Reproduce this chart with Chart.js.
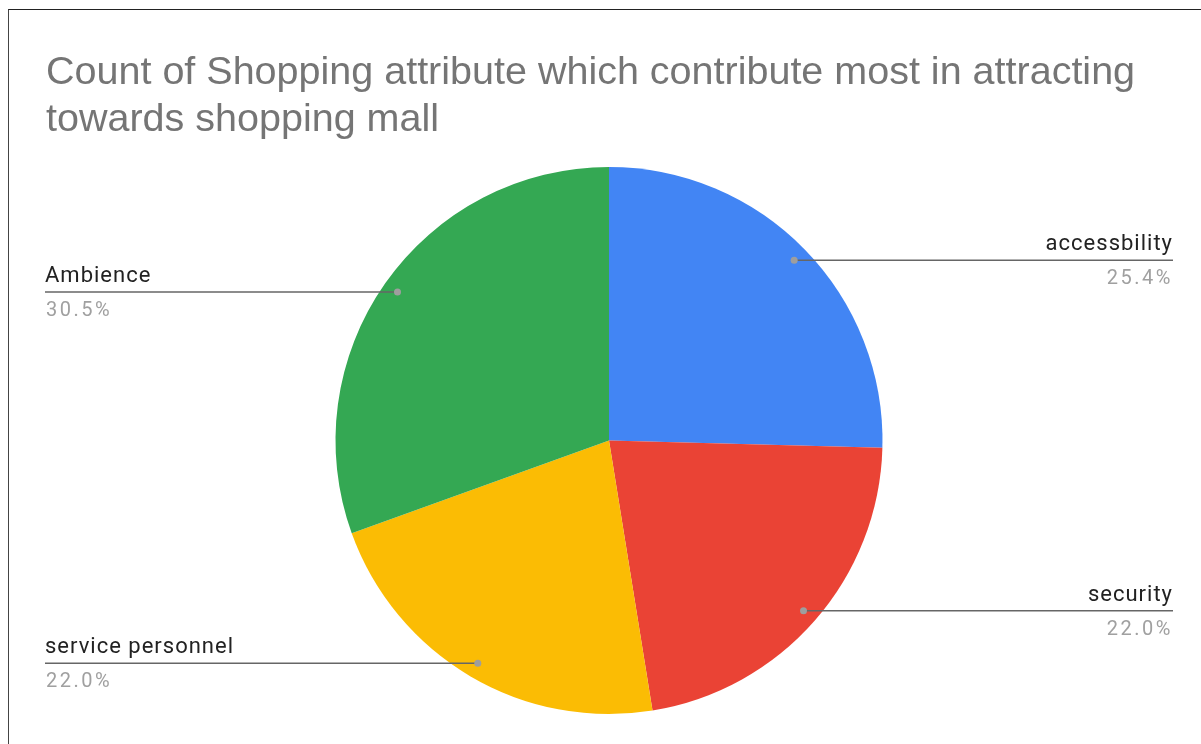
<!DOCTYPE html>
<html>
<head>
  <meta charset="UTF-8">
  <script src="https://cdn.jsdelivr.net/npm/chart.js"></script>
  <title>Shopping attribute</title>
  <style>
    html, body { margin: 0; padding: 0; background: #fff; }
    .wrap { position: relative; width: 1201px; height: 744px; }
    .frame { position: absolute; left: 8px; top: 9px; right: 0; bottom: 0;
             border-top: 1.5px solid #222; border-left: 1.5px solid #444; pointer-events: none; }
  </style>
</head>
<body>
  <div class="wrap">
    <canvas id="myChart" width="1201" height="744"></canvas>
    <div class="frame"></div>
  </div>
  <script>
    var titleLines = ['Count of Shopping attribute which contribute most in attracting', 'towards shopping mall'];
    var labels = ['accessbility', 'security', 'service personnel', 'Ambience'];
    var counts = [15, 13, 13, 18];
    var colors = ['#4285F4', '#EA4335', '#FBBC04', '#34A853'];

    // title + callout labels drawn on top of the pie
    var calloutPlugin = {
      id: 'callouts',
      afterDraw: function (chart) {
        var ctx = chart.ctx;
        ctx.save();
        ctx.fillStyle = '#757575';
        ctx.font = '39.5px "Liberation Sans", Arial, sans-serif';
        ctx.textAlign = 'left';
        ctx.textBaseline = 'alphabetic';
        ctx.fillText(titleLines[0], 46, 84);
        ctx.fillText(titleLines[1], 46, 131);

        var meta = chart.getDatasetMeta(0);
        var total = counts.reduce(function (a, b) { return a + b; }, 0);
        meta.data.forEach(function (arc, i) {
          var mid = (arc.startAngle + arc.endAngle) / 2;
          var r = arc.outerRadius * 0.945;
          var px = arc.x + Math.cos(mid) * r;
          var py = arc.y + Math.sin(mid) * r;
          var right = px > arc.x;
          var edge = right ? chart.width - 28 : 45;

          ctx.strokeStyle = '#666';
          ctx.lineWidth = 1.5;
          ctx.beginPath();
          ctx.moveTo(px, py);
          ctx.lineTo(edge, py);
          ctx.stroke();

          ctx.fillStyle = '#9e9e9e';
          ctx.beginPath();
          ctx.arc(px, py, 3.5, 0, Math.PI * 2);
          ctx.fill();

          ctx.textAlign = right ? 'right' : 'left';
          ctx.fillStyle = '#222';
          ctx.font = '22px Roboto, sans-serif';
          ctx.letterSpacing = '1px';
          ctx.fillText(labels[i], edge, py - 10);
          ctx.fillStyle = '#a0a0a0';
          ctx.font = '20px Roboto, sans-serif';
          ctx.letterSpacing = '2.5px';
          ctx.fillText((counts[i] / total * 100).toFixed(1) + '%', right ? edge : edge + 1, py + 24);
          ctx.letterSpacing = '0px';
        });
        ctx.restore();
      }
    };

    var ctx = document.getElementById('myChart').getContext('2d');
    var chart = new Chart(ctx, {
      type: 'pie',
      data: {
        labels: labels,
        datasets: [{
          data: counts,
          backgroundColor: colors,
          borderWidth: 0
        }]
      },
      options: {
        responsive: false,
        animation: false,
        layout: { padding: { top: 167, bottom: 30, left: 335, right: 318 } },
        plugins: {
          legend: { display: false },
          tooltip: { enabled: false }
        }
      },
      plugins: [calloutPlugin]
    });
  </script>
</body>
</html>
